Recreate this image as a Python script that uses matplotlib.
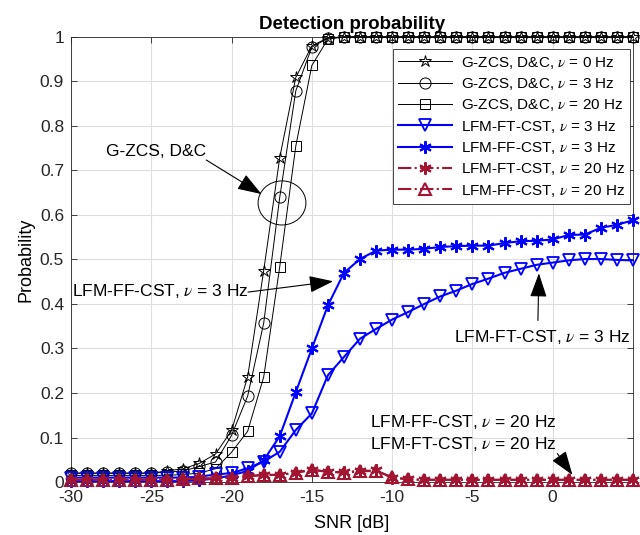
import numpy as np
import matplotlib
matplotlib.use("Agg")
from matplotlib import pyplot as plt
from matplotlib.patches import Ellipse

# 字体设置，尽量接近 MATLAB 的 Helvetica
plt.rcParams["font.family"] = ["Liberation Sans", "DejaVu Sans"]
plt.rcParams["mathtext.fontset"] = "stix"
plt.rcParams["axes.unicode_minus"] = False

# SNR 轴，每 1 dB 一个点
snr = list(range(-30, 6))

# G-ZCS, D&C 三条曲线
gzcs_0 = [0.02, 0.02, 0.02, 0.02, 0.02, 0.02, 0.025, 0.03, 0.042, 0.063, 0.116, 0.236,
          0.475, 0.729, 0.909, 0.98, 0.998, 1, 1, 1, 1, 1, 1, 1, 1, 1, 1, 1, 1, 1, 1, 1, 1, 1, 1, 1]
gzcs_3 = [0.02, 0.02, 0.02, 0.02, 0.02, 0.02, 0.022, 0.025, 0.035, 0.045, 0.105, 0.193,
          0.357, 0.64, 0.879, 0.977, 0.997, 1, 1, 1, 1, 1, 1, 1, 1, 1, 1, 1, 1, 1, 1, 1, 1, 1, 1, 1]
gzcs_20 = [0.015, 0.015, 0.015, 0.015, 0.015, 0.015, 0.015, 0.017, 0.02, 0.03, 0.067, 0.114,
           0.236, 0.484, 0.755, 0.936, 0.995, 1, 1, 1, 1, 1, 1, 1, 1, 1, 1, 1, 1, 1, 1, 1, 1, 1, 1, 1]

# LFM, nu = 3 Hz
ft_3 = [0.01, 0.01, 0.01, 0.01, 0.01, 0.01, 0.01, 0.01, 0.012, 0.017, 0.02, 0.031,
        0.046, 0.068, 0.117, 0.154, 0.24, 0.281, 0.322, 0.344, 0.365, 0.382, 0.40, 0.417,
        0.43, 0.445, 0.457, 0.47, 0.479, 0.488, 0.493, 0.498, 0.501, 0.501, 0.499, 0.498]
ff_3 = [0.002, 0.002, 0.002, 0.002, 0.002, 0.002, 0.002, 0.002, 0.004, 0.008, 0.015, 0.025,
        0.049, 0.103, 0.202, 0.30, 0.397, 0.47, 0.501, 0.52, 0.522, 0.522, 0.524, 0.528,
        0.53, 0.531, 0.531, 0.537, 0.541, 0.542, 0.545, 0.555, 0.556, 0.571, 0.578, 0.588]

# LFM, nu = 20 Hz
ft_20 = [0.005, 0.005, 0.005, 0.005, 0.005, 0.005, 0.005, 0.005, 0.008, 0.008, 0.01, 0.013,
         0.016, 0.016, 0.021, 0.027, 0.023, 0.022, 0.025, 0.026, 0.01, 0.006, 0.005, 0.005,
         0.005, 0.005, 0.005, 0.005, 0.005, 0.005, 0.005, 0.005, 0.005, 0.005, 0.005, 0.005]
ff_20 = [0.005, 0.005, 0.005, 0.005, 0.005, 0.005, 0.005, 0.006, 0.008, 0.008, 0.01, 0.013,
         0.016, 0.016, 0.021, 0.028, 0.023, 0.021, 0.024, 0.025, 0.011, 0.006, 0.005, 0.005,
         0.005, 0.005, 0.005, 0.005, 0.005, 0.005, 0.005, 0.005, 0.005, 0.005, 0.005, 0.005]

red = "#A2142F"
blue = "#0000FF"
ast = (6, 2, 0)  # 星号标记

fig = plt.figure(figsize=(6.4, 5.35), dpi=100)
ax = fig.add_axes([0.111, 0.099, 0.878, 0.832])

kw = dict(clip_on=False, zorder=3)
ax.plot(snr, gzcs_0, "-", color="k", lw=0.7, marker="*", ms=9, mfc="none", mew=0.7,
        label=r"G-ZCS, D&C, $\nu$ = 0 Hz", **kw)
ax.plot(snr, gzcs_3, "-", color="k", lw=0.7, marker="o", ms=8, mfc="none", mew=0.7,
        label=r"G-ZCS, D&C, $\nu$ = 3 Hz", **kw)
ax.plot(snr, gzcs_20, "-", color="k", lw=0.7, marker="s", ms=7, mfc="none", mew=0.7,
        label=r"G-ZCS, D&C, $\nu$ = 20 Hz", **kw)
ax.plot(snr, ft_3, "-", color=blue, lw=1.5, marker="v", ms=9, mfc="none", mew=1.3,
        label=r"LFM-FT-CST, $\nu$ = 3 Hz", **kw)
ax.plot(snr, ff_3, "-", color=blue, lw=1.5, marker=ast, ms=9, mew=1.5,
        label=r"LFM-FF-CST, $\nu$ = 3 Hz", **kw)
ax.plot(snr, ft_20, "-.", color=red, lw=1.5, marker=ast, ms=9, mew=1.5,
        label=r"LFM-FT-CST, $\nu$ = 20 Hz", **kw)
ax.plot(snr, ff_20, "-.", color=red, lw=1.5, marker="^", ms=9, mfc="none", mew=1.5,
        label=r"LFM-FF-CST, $\nu$ = 20 Hz", **kw)

ax.set_xlim(-30, 5)
ax.set_ylim(0, 1)
ax.set_xticks(range(-30, 1, 5))
ax.set_yticks(np.arange(0, 1.01, 0.1))
ax.set_yticklabels(["0", "0.1", "0.2", "0.3", "0.4", "0.5", "0.6", "0.7", "0.8", "0.9", "1"])
ax.tick_params(direction="in", top=True, right=True, labelsize=12.5, colors="#262626",
               length=4, width=0.6)
ax.tick_params(axis="x", pad=6)
ax.tick_params(axis="y", pad=5)
ax.grid(True, color="#dedede", lw=0.8)
ax.set_axisbelow(True)
for s in ax.spines.values():
    s.set_color("#262626")
    s.set_linewidth(0.6)

ax.set_xlabel("SNR [dB]", fontsize=13, labelpad=7)
ax.set_ylabel("Probability", fontsize=13, labelpad=4)
ax.set_title("Detection probability", fontsize=13.5, fontweight="bold", pad=6)

leg = ax.legend(loc="upper right", bbox_to_anchor=(0.995, 0.972), borderaxespad=0,
                fontsize=11, handlelength=3.5, labelspacing=0.35, handletextpad=0.6,
                borderpad=0.35, fancybox=False, framealpha=1, edgecolor="#262626")
leg.get_frame().set_linewidth(0.6)

# 标注
arr = dict(arrowstyle="-|>,head_length=1.0,head_width=0.35", color="k", lw=0.8,
           mutation_scale=15, shrinkA=0, shrinkB=0)
fs = 12.5
ax.add_patch(Ellipse((-16.86, 0.627), 2.98, 0.099, fill=False, color="k", lw=0.7, zorder=4))
ax.text(-27.85, 0.743, "G-ZCS, D&C", fontsize=fs, ha="left", va="center")
ax.annotate("", xy=(-18.14, 0.647), xytext=(-21.58, 0.7235), arrowprops=arr)
ax.text(-29.95, 0.43, r"LFM-FF-CST, $\nu$ = 3 Hz", fontsize=fs, ha="left", va="center")
ax.annotate("", xy=(-13.67, 0.451), xytext=(-18.98, 0.4267), arrowprops=arr)
ax.text(-6.17, 0.326, r"LFM-FT-CST, $\nu$ = 3 Hz", fontsize=fs, ha="left", va="center")
ax.annotate("", xy=(-0.86, 0.469), xytext=(-0.92, 0.363), arrowprops=arr)
ax.text(-11.35, 0.135, r"LFM-FF-CST, $\nu$ = 20 Hz", fontsize=fs, ha="left", va="center")
ax.text(-11.35, 0.085, r"LFM-FT-CST, $\nu$ = 20 Hz", fontsize=fs, ha="left", va="center")
ax.annotate("", xy=(1.23, 0.016), xytext=(0.29, 0.064), arrowprops=arr)

plt.savefig("out.png", dpi=100)
